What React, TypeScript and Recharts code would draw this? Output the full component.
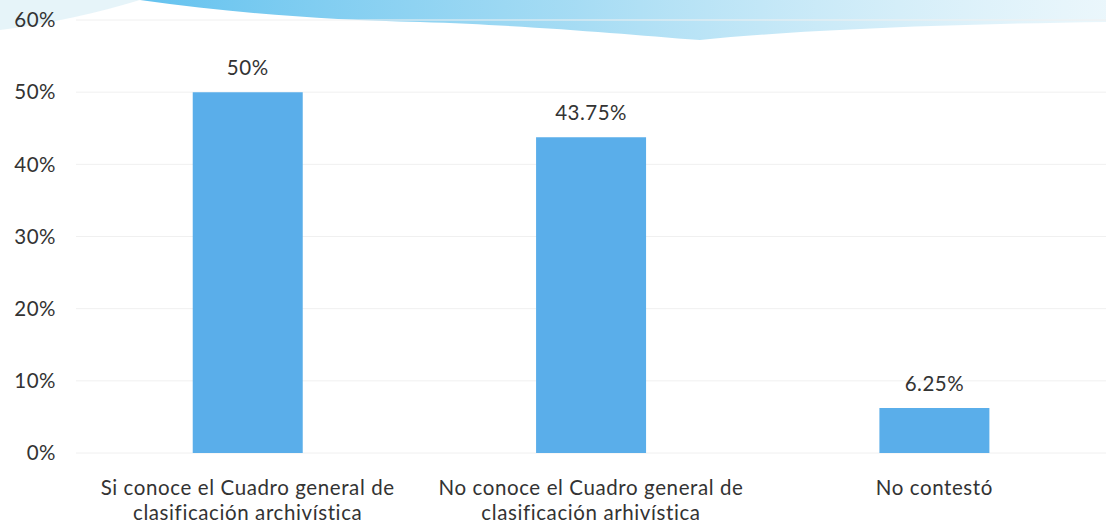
import { BarChart, Bar, XAxis, YAxis, CartesianGrid, LabelList } from 'recharts'

const CATEGORIES = [
  'Si conoce el Cuadro general de|clasificación archivística',
  'No conoce el Cuadro general de|clasificación arhivística',
  'No contestó',
]
const VALUES = [50, 43.75, 6.25]
const VALUE_LABELS = ['50%', '43.75%', '6.25%']
const Y_TICKS = [0, 10, 20, 30, 40, 50, 60]

const FONT = 'Lato, sans-serif'
const TEXT = '#333333'
const FS = 20.5

const data = CATEGORIES.map((name, i) => ({ name, value: VALUES[i], label: VALUE_LABELS[i] }))

function CategoryTick(props: any) {
  const { x, y, payload } = props
  const lines = String(payload.value).split('|')
  return (
    <g>
      {lines.map((l, i) => (
        <text key={i} x={x} y={y + 34 + i * 24.8} textAnchor="middle" fill={TEXT} fontFamily={FONT} fontSize={FS} letterSpacing={0.6}>
          {l}
        </text>
      ))}
    </g>
  )
}

function ValueLabel(props: any) {
  const { x, y, width, index } = props
  return (
    <text x={x + width / 2} y={y - 17} textAnchor="middle" fill={TEXT} fontFamily={FONT} fontSize={FS} letterSpacing={0.5}>
      {VALUE_LABELS[index]}
    </text>
  )
}

export default function App() {
  return (
    <div style={{ position: 'absolute', left: 0, top: 0, width: 1106, height: 524, background: '#fff', overflow: 'hidden' }}>
      <svg width={1106} height={50} style={{ position: 'absolute', left: 0, top: 0 }}>
        <defs>
          <linearGradient id="swoosh" x1="0" x2="1" y1="0" y2="0">
            <stop offset="0" stopColor="#5cbfee" stopOpacity={0.95} />
            <stop offset="0.45" stopColor="#8fd3f1" stopOpacity={0.8} />
            <stop offset="1" stopColor="#d6eef8" stopOpacity={0.5} />
          </linearGradient>
        </defs>
        <path d="M0 0 H140 C100 12 50 24 0 30 Z" fill="#e2f2f8" opacity={0.85} />
        <path d="M140 0 C240 14 330 20 420 22 C540 26 620 34 700 40 C800 30 950 24 1106 22 V0 Z" fill="url(#swoosh)" />
      </svg>
      <BarChart
        width={1106}
        height={524}
        data={data}
        margin={{ top: 20, right: 0, bottom: 0, left: 0 }}
        barCategoryGap="34%"
        style={{ position: 'absolute', left: 0, top: 0 }}
      >
        <CartesianGrid vertical={false} stroke="#f0f0f0" />
        <XAxis
          dataKey="name"
          height={71}
          axisLine={false}
          tickLine={false}
          tick={<CategoryTick />}
          interval={0}
        />
        <YAxis
          width={76}
          domain={[0, 60]}
          ticks={Y_TICKS}
          tickFormatter={(v: number) => `${v}%`}
          axisLine={false}
          tickLine={false}
          tickSize={0}
          tickMargin={20}
          tick={{ fill: TEXT, fontFamily: FONT, fontSize: FS, letterSpacing: 0.5 }}
        />
        <Bar dataKey="value" fill="#5aaeea" isAnimationActive={false}>
          <LabelList dataKey="label" content={<ValueLabel />} />
        </Bar>
      </BarChart>
    </div>
  )
}
